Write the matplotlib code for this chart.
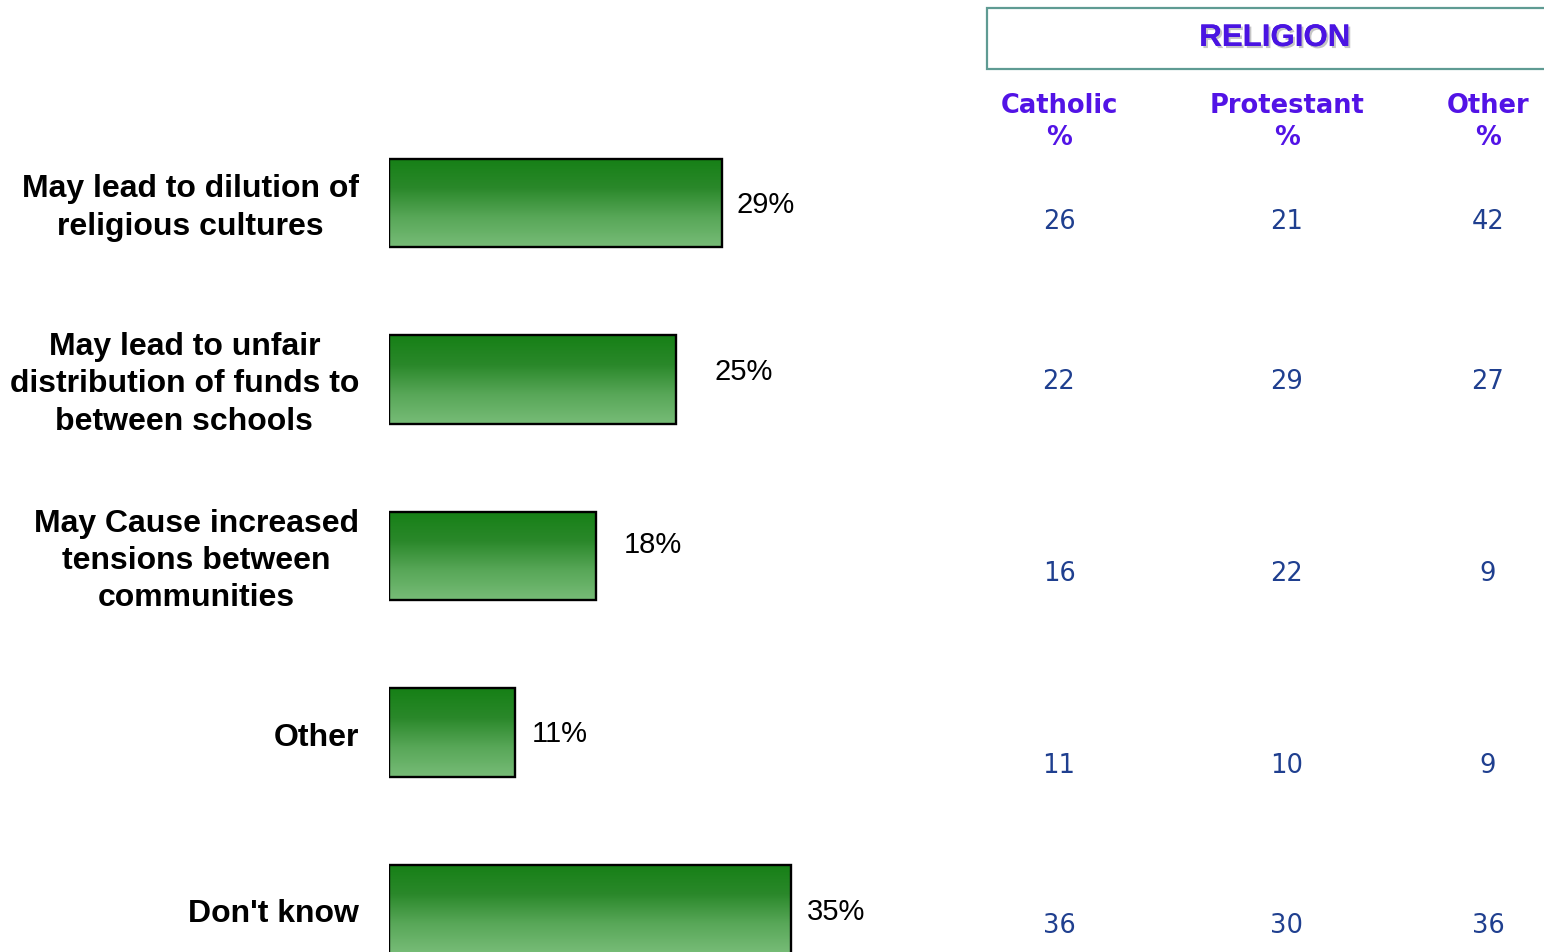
import matplotlib
matplotlib.use('Agg')
import matplotlib.pyplot as plt
import matplotlib.patheffects as pe
from matplotlib.patches import Rectangle
from matplotlib.colors import LinearSegmentedColormap
import numpy as np

categories = [
    'May lead to dilution of\nreligious cultures',
    'May lead to unfair\ndistribution of funds to\nbetween schools',
    'May Cause increased\ntensions between\ncommunities',
    'Other',
    "Don't know",
]
totals = [29, 25, 18, 11, 35]

religion_cols = ['Catholic\n%', 'Protestant\n%', 'Other\n%']
catholic = [26, 22, 16, 11, 36]
protestant = [21, 29, 22, 10, 30]
other = [42, 27, 9, 9, 36]

W, H = 1544, 953
fig = plt.figure(figsize=(W / 100, H / 100), dpi=100)
fig.patch.set_facecolor('white')


def px(x, y):
    # pixel (from top-left) -> figure fraction
    return x / W, 1 - y / H


# bar axes: 11.48 px per percent, rows 176.5 px apart
x0_px, scale = 389, 11.48
xmax = 60
top_px, step = 204 - 176.5 / 2, 176.5
n = len(categories)
ax = fig.add_axes([x0_px / W, 1 - (top_px + step * n) / H,
                   xmax * scale / W, step * n / H])
ax.axis('off')

green = LinearSegmentedColormap.from_list('g', ['#168016', '#2a882a', '#58a758', '#77bc77'])
grad = np.linspace(0, 1, 256).reshape(-1, 1)
bar_h = 0.5
ypos = np.arange(n)
for y, v in zip(ypos, totals):
    ax.imshow(grad, cmap=green, aspect='auto',
              extent=(0, v, y + bar_h / 2, y - bar_h / 2), zorder=2)
ax.barh(ypos, totals, height=bar_h, facecolor='none',
        edgecolor='black', linewidth=1.7, zorder=3)
ax.set_xlim(0, xmax)
ax.set_ylim(n - 0.5, -0.5)

# value labels (offsets in pixels, as placed in the original)
label_offsets = [(15, -1), (38, 8), (28, 12), (16, -1), (16, -2)]
for y, v, (dx, dy) in zip(ypos, totals, label_offsets):
    ax.annotate(f'{v}%', (v, y), xytext=(dx, dy), textcoords='offset pixels',
                ha='left', va='center', fontsize=21, family='Liberation Sans',
                color='black')

# category labels, right-aligned block, lines centred
for y, cat in zip(ypos, categories):
    ax.annotate(cat, (0, y), xytext=(-30, -4), textcoords='offset pixels',
                ha='right', va='center', multialignment='center',
                fontsize=23, fontweight='bold', family='Liberation Sans',
                linespacing=1.31, annotation_clip=False)

# religion header box
box = Rectangle(px(987, 70), (W + 10 - 987) / W, 61 / H, transform=fig.transFigure,
                facecolor='white', edgecolor='#5f9b93', linewidth=1.6, clip_on=False)
fig.add_artist(box)
fig.text(*px(1275, 39), 'RELIGION', ha='center', va='center', fontsize=22.5,
         fontweight='bold', family='Liberation Sans', color='#4a14e2',
         path_effects=[pe.withSimplePatchShadow(offset=(1.5, -1.5), shadow_rgbFace='gray', alpha=0.45),
                       pe.Normal()])

head_color = '#5213e6'
num_color = '#1f3f8f'
col_x = [1059, 1287, 1488]
row_y = [222, 382, 574, 766, 926]
for cx, name, vals in zip(col_x, religion_cols, [catholic, protestant, other]):
    fig.text(*px(cx, 122), name, ha='center', va='center', fontsize=18.5,
             fontweight='bold', family='DejaVu Sans', color=head_color,
             linespacing=1.27)
    for ry, v in zip(row_y, vals):
        fig.text(*px(cx, ry), str(v), ha='center', va='center', fontsize=18.5,
                 family='DejaVu Sans', color=num_color)

fig.savefig('out.png', dpi=100)
